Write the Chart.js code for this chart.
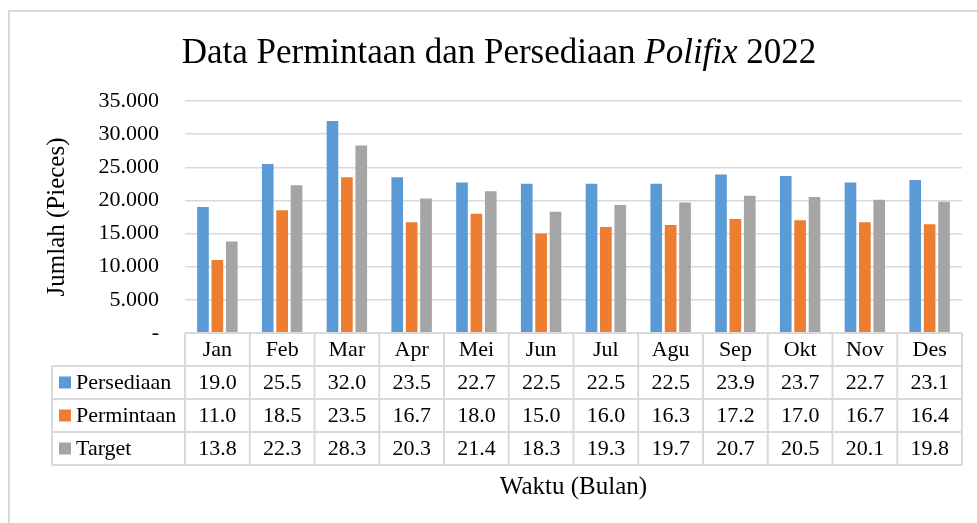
<!DOCTYPE html>
<html>
<head>
<meta charset="utf-8">
<title>Data Permintaan dan Persediaan Polifix 2022</title>
<script src="https://cdn.jsdelivr.net/npm/chart.js@4.4.1/dist/chart.umd.min.js"></script>
<style>
  html, body { margin: 0; padding: 0; background: #fff; }
  .wrap { width: 977px; height: 523px; position: relative; }
</style>
</head>
<body>
<div class="wrap"><canvas id="stockChart"></canvas></div>
<script>
// DATA (ribu pieces)
const months = ['Jan', 'Feb', 'Mar', 'Apr', 'Mei', 'Jun', 'Jul', 'Agu', 'Sep', 'Okt', 'Nov', 'Des'];
const persediaan = [19.0, 25.5, 32.0, 23.5, 22.7, 22.5, 22.5, 22.5, 23.9, 23.7, 22.7, 23.1];
const permintaan = [11.0, 18.5, 23.5, 16.7, 18.0, 15.0, 16.0, 16.3, 17.2, 17.0, 16.7, 16.4];
const target = [13.8, 22.3, 28.3, 20.3, 21.4, 18.3, 19.3, 19.7, 20.7, 20.5, 20.1, 19.8];
const yTickLabels = ['-', '5.000', '10.000', '15.000', '20.000', '25.000', '30.000', '35.000'];

const serif = '"Liberation Serif", "Times New Roman", serif';
const seriesNames = ['Persediaan', 'Permintaan', 'Target'];
const seriesColors = ['#5B9BD5', '#ED7D31', '#A5A5A5'];
const seriesData = [persediaan, permintaan, target];
const lineGray = '#D9D9D9';

//FRAME + TITLE
const framePlugin = {
  id: 'frame',
  beforeDraw(chart) {
    const ctx = chart.ctx;
    ctx.save();
    ctx.strokeStyle = lineGray;
    ctx.lineWidth = 2;
    ctx.beginPath();
    ctx.moveTo(9, 523);
    ctx.lineTo(9, 11);
    ctx.lineTo(977, 11);
    ctx.stroke();

    // title with italic word
    const parts = [
      { t: 'Data Permintaan dan Persediaan ', f: '35px ' + serif },
      { t: 'Polifix', f: 'italic 35px ' + serif },
      { t: ' 2022', f: '35px ' + serif }
    ];
    let total = 0;
    parts.forEach(p => { ctx.font = p.f; p.w = ctx.measureText(p.t).width; total += p.w; });
    let x = 499 - total / 2;
    ctx.fillStyle = '#000';
    ctx.textBaseline = 'alphabetic';
    ctx.textAlign = 'left';
    parts.forEach(p => { ctx.font = p.f; ctx.fillText(p.t, x, 63); x += p.w; });
    ctx.restore();
  }
};

//DATA TABLE UNDER THE AXIS
const tablePlugin = {
  id: 'dataTable',
  afterDraw(chart) {
    const ctx = chart.ctx;
    const xs = chart.scales.x;
    const area = chart.chartArea;
    const colW = (area.right - area.left) / months.length;
    const rowH = 33;
    const top = area.bottom;
    const labelLeft = 52;

    ctx.save();
    ctx.strokeStyle = lineGray;
    ctx.lineWidth = 2;

    // header row (month labels come from the axis)
    ctx.beginPath();
    ctx.moveTo(area.left, top);
    ctx.lineTo(area.right, top);
    ctx.moveTo(labelLeft, top + rowH);
    ctx.lineTo(area.right, top + rowH);
    for (let r = 2; r <= 4; r++) {
      ctx.moveTo(labelLeft, top + rowH * r);
      ctx.lineTo(area.right, top + rowH * r);
    }
    for (let i = 0; i <= months.length; i++) {
      const x = area.left + colW * i;
      ctx.moveTo(x, top);
      ctx.lineTo(x, top + rowH * 4);
    }
    ctx.moveTo(labelLeft, top + rowH);
    ctx.lineTo(labelLeft, top + rowH * 4);
    ctx.stroke();

    ctx.font = '22px ' + serif;
    ctx.textBaseline = 'middle';
    seriesData.forEach((vals, s) => {
      const cy = top + rowH * (s + 1) + rowH / 2;
      ctx.fillStyle = seriesColors[s];
      ctx.fillRect(59, cy - 6, 12, 12);
      ctx.fillStyle = '#000';
      ctx.textAlign = 'left';
      ctx.fillText(seriesNames[s], 76, cy + 1);
      ctx.textAlign = 'center';
      vals.forEach((v, i) => {
        ctx.fillText(v.toFixed(1), xs.getPixelForValue(i), cy + 1);
      });
    });
    ctx.restore();
  }
};

const ctx = document.getElementById('stockChart');

new Chart(ctx, {
  type: 'bar',
  data: {
    labels: months,
    datasets: seriesNames.map((name, s) => ({
      label: name,
      data: seriesData[s],
      backgroundColor: seriesColors[s],
      borderWidth: 0,
      categoryPercentage: 0.667,
      barPercentage: 0.81
    }))
  },
  options: {
    responsive: true,
    maintainAspectRatio: false,
    animation: false,
    layout: { padding: { top: 101, right: 15, left: 0, bottom: 0 } },
    plugins: {
      legend: { display: false },
      tooltip: { enabled: false },
      title: { display: false }
    },
    scales: {
      x: {
        grid: { display: false },
        border: { display: false },
        ticks: {
          color: '#000',
          padding: -4,
          maxRotation: 0,
          font: { family: serif, size: 22 }
        },
        title: {
          display: true,
          text: 'Waktu (Bulan)',
          color: '#000',
          font: { family: serif, size: 25 },
          padding: { top: 0, bottom: 21 }
        },
        afterFit(scale) {
          scale.height = 190;
          scale.paddingLeft = 0;
          scale.paddingRight = 0;
        }
      },
      y: {
        min: 0,
        max: 35,
        grid: { color: lineGray, lineWidth: 1.5, drawTicks: false },
        border: { display: false },
        ticks: {
          stepSize: 5,
          color: '#000',
          padding: 26,
          font: { family: serif, size: 22 },
          callback: (v) => yTickLabels[Math.round(v / 5)]
        },
        title: {
          display: true,
          text: 'Jumlah (Pieces)',
          color: '#000',
          font: { family: serif, size: 25 },
          padding: { top: 42, bottom: 0 }
        },
        afterFit(scale) {
          scale.width = 185;
          scale.paddingTop = 0;
          scale.paddingBottom = 0;
        }
      }
    }
  },
  plugins: [framePlugin, tablePlugin]
});
</script>
</body>
</html>
